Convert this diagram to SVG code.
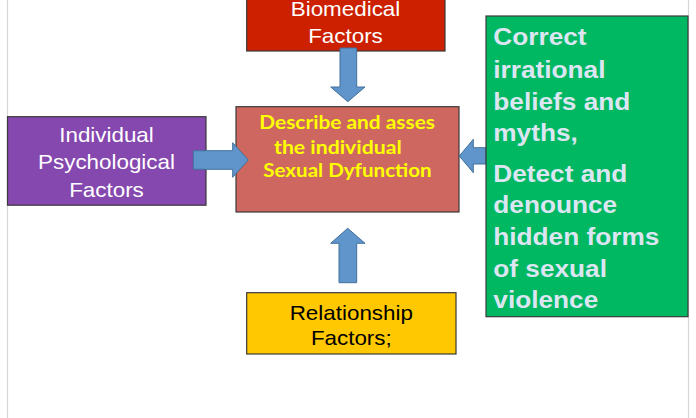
<svg xmlns="http://www.w3.org/2000/svg" width="696" height="418" viewBox="0 0 696 418">
<defs>
<style>
.box{stroke:#3a3a3a;stroke-width:1.2}
.arr{fill:#5F95CB;stroke:#41719C;stroke-width:1}
.t{font-family:"Liberation Sans",Arial,sans-serif;font-size:20px;text-anchor:middle}
.g{font-family:"Liberation Sans",Arial,sans-serif;font-size:23px;font-weight:bold;fill:#DCE6F2}
.c{font-family:Lato,"Open Sans",sans-serif;font-size:18px;font-weight:bold;fill:#FFFF00}
.edge{stroke:#d6d6d6;stroke-width:1.2}
</style>
</defs>
<rect width="696" height="418" fill="#ffffff"/>
<line class="edge" x1="7.5" y1="0" x2="7.5" y2="418"/>
<line class="edge" x1="688.5" y1="0" x2="688.5" y2="418"/>

<g id="biomedical">
<rect class="box" x="246.7" y="-2" width="198.3" height="53" fill="#CC2000"/>
<text class="t" fill="#ffffff" transform="translate(345.5,15.8) scale(1.12,1)">Biomedical</text>
<text class="t" fill="#ffffff" transform="translate(345.5,42.6) scale(1.12,1)">Factors</text>
</g>

<g id="individual">
<rect class="box" x="7.5" y="116.7" width="198.5" height="88.5" fill="#8548AE"/>
<text class="t" fill="#ffffff" transform="translate(106.5,141.7) scale(1.12,1)">Individual</text>
<text class="t" fill="#ffffff" transform="translate(106.5,169.3) scale(1.12,1)">Psychological</text>
<text class="t" fill="#ffffff" transform="translate(106.5,196.7) scale(1.12,1)">Factors</text>
</g>

<g id="center">
<rect class="box" x="236" y="106.7" width="223" height="105.3" fill="#CD6760"/>
<text class="c" x="259.3" y="129" textLength="175.7" lengthAdjust="spacingAndGlyphs">Describe and asses</text>
<text class="c" x="274" y="154" textLength="127.7" lengthAdjust="spacingAndGlyphs">the individual</text>
<text class="c" x="263.3" y="176.7" textLength="168.4" lengthAdjust="spacingAndGlyphs">Sexual Dyfunction</text>
</g>

<g id="relationship">
<rect class="box" x="246.7" y="292.7" width="209.3" height="61.3" fill="#FFC800"/>
<text class="t" fill="#000000" transform="translate(351.3,320) scale(1.12,1)">Relationship</text>
<text class="t" fill="#000000" transform="translate(351.3,345) scale(1.12,1)">Factors;</text>
</g>

<g id="connectors">
<path class="arr" d="M340,48 H356.7 V87 H365 L347.8,101.7 L330.7,87 H340 Z"/>
<path class="arr" d="M193.3,150.7 H232.7 V142.7 L248.3,160 L232.7,177.3 V169.3 H193.3 Z"/>
<path class="arr" d="M486,147.7 H473.3 V139.3 L459.3,156 L473.3,172.7 V164 H486 Z"/>
<path class="arr" d="M339,282.7 V243.3 H330.7 L347.7,228.3 L365,243.3 H356.7 V282.7 Z"/>
</g>

<g id="goals">
<rect class="box" x="486" y="16" width="202" height="300.7" fill="#00B862"/>
<text class="g" transform="translate(493.3,45) scale(1.14,1)">Correct</text>
<text class="g" transform="translate(493.3,77.7) scale(1.14,1)">irrational</text>
<text class="g" transform="translate(493.3,110) scale(1.14,1)">beliefs and</text>
<text class="g" transform="translate(493.3,140.7) scale(1.14,1)">myths,</text>
<text class="g" transform="translate(493.3,181.7) scale(1.14,1)">Detect and</text>
<text class="g" transform="translate(493.3,213.3) scale(1.14,1)">denounce</text>
<text class="g" transform="translate(493.3,245) scale(1.14,1)">hidden forms</text>
<text class="g" transform="translate(493.3,276.7) scale(1.14,1)">of sexual</text>
<text class="g" transform="translate(493.3,308.3) scale(1.14,1)">violence</text>
</g>
</svg>
